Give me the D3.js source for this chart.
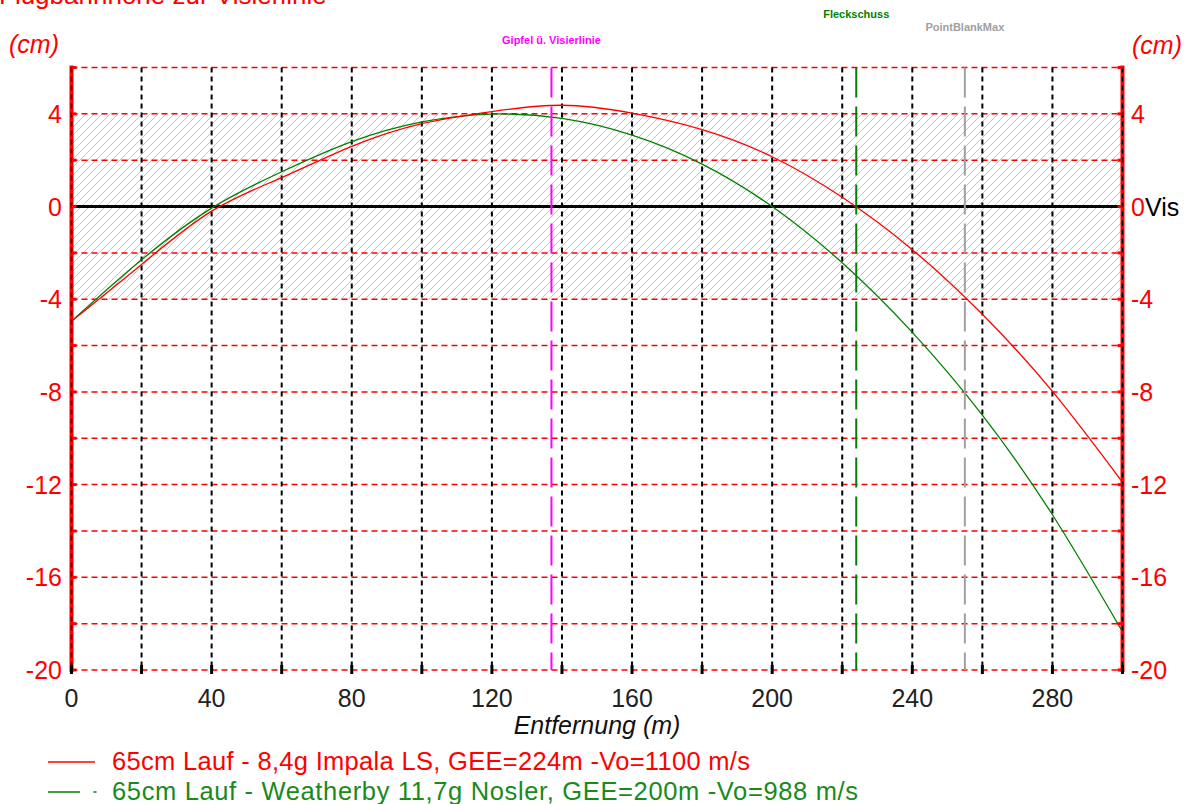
<!DOCTYPE html>
<html>
<head>
<meta charset="utf-8">
<script src="https://cdn.jsdelivr.net/npm/d3@7"></script>
<style>
  html, body { margin: 0; padding: 0; background: #ffffff; }
  svg { display: block; }
  text { font-family: "Liberation Sans", Arial, sans-serif; }
</style>
</head>
<body>
<svg id="chart" width="1190" height="804"></svg>
<script>
// ---- Data ----
const distances = [0, 20, 40, 60, 80, 100, 120, 140, 160, 180, 200, 220, 240, 260, 280, 300];
const impalaValues = [-4.95, -2.5, -0.2, 1.25, 2.6, 3.58, 4.1, 4.37, 4.03, 3.32, 2.15, 0.4, -1.86, -4.65, -7.98, -11.9];
const weatherbyValues = [-4.95, -2.3, -0.07, 1.5, 2.8, 3.65, 3.99, 3.8, 3.08, 1.83, 0.0, -2.43, -5.43, -9.0, -13.3, -18.35];
const seriesNames = [
  "65cm Lauf - 8,4g Impala LS, GEE=224m -Vo=1100 m/s",
  "65cm Lauf - Weatherby 11,7g Nosler, GEE=200m -Vo=988 m/s"
];
const xTicks = [0, 40, 80, 120, 160, 200, 240, 280];
const xGrid = [0, 20, 40, 60, 80, 100, 120, 140, 160, 180, 200, 220, 240, 260, 280, 300];
const yTicks = [4, 0, -4, -8, -12, -16, -20];
const yGrid = [6, 4, 2, -2, -4, -6, -8, -10, -12, -14, -16, -18, -20];
const markerNames = ["Gipfel ü. Visierlinie", "Fleckschuss", "PointBlankMax"];
const markerDistances = [137, 224, 255];
const hatchBand = [-4, 4];
const titleText = "Flugbahnhöhe zur Visierlinie";
const xTitle = "Entfernung (m)";
const yUnit = "(cm)";

// ---- Layout ----
const svg = d3.select("#chart");
const x = d3.scaleLinear().domain([0, 300]).range([71.5, 1122.5]);
const y = d3.scaleLinear().domain([-20, 6]).range([670, 67.5]);
const RED = "#ff0000", GREEN = "#008000", MAGENTA = "#ff00ff", GRAY = "#a0a0a0";
const markerColors = [MAGENTA, GREEN, GRAY];
const markerLabelY = [44, 18, 31];

// hatch pattern
const defs = svg.append("defs");
const pat = defs.append("pattern").attr("id", "hatch")
  .attr("patternUnits", "userSpaceOnUse").attr("width", 8).attr("height", 8);
pat.append("path").attr("d", "M-2,2 L2,-2 M0,8 L8,0 M6,10 L10,6")
  .attr("stroke", "#c4c4c4").attr("stroke-width", 1);

svg.append("rect")
  .attr("x", x(0)).attr("width", x(300) - x(0))
  .attr("y", y(hatchBand[1])).attr("height", y(hatchBand[0]) - y(hatchBand[1]))
  .attr("fill", "url(#hatch)");

// horizontal red dashed grid
svg.append("g").selectAll("line").data(yGrid).join("line")
  .attr("x1", x(0)).attr("x2", x(300))
  .attr("y1", d => y(d)).attr("y2", d => y(d))
  .attr("stroke", RED).attr("stroke-width", 1.5)
  .attr("stroke-dasharray", "6,4");

// vertical black dashed grid
svg.append("g").selectAll("line").data(xGrid.filter(d => d > 0 && d < 300)).join("line")
  .attr("x1", d => x(d)).attr("x2", d => x(d))
  .attr("y1", y(6)).attr("y2", y(-20))
  .attr("stroke", "#000").attr("stroke-width", 2)
  .attr("stroke-dasharray", "5,4");

// zero (sight) line
svg.append("line")
  .attr("x1", x(0)).attr("x2", x(300)).attr("y1", y(0)).attr("y2", y(0))
  .attr("stroke", "#000").attr("stroke-width", 3);

// curves
const line = d3.line().x((d, i) => x(distances[i])).y(d => y(d)).curve(d3.curveNatural);
svg.append("path").datum(weatherbyValues).attr("d", line)
  .attr("fill", "none").attr("stroke", GREEN).attr("stroke-width", 1.3);
svg.append("path").datum(impalaValues).attr("d", line)
  .attr("fill", "none").attr("stroke", RED).attr("stroke-width", 1.3);

// marker vertical lines
svg.append("g").selectAll("line").data(markerDistances).join("line")
  .attr("x1", d => x(d)).attr("x2", d => x(d))
  .attr("y1", y(6)).attr("y2", y(-20))
  .attr("stroke", (d, i) => markerColors[i]).attr("stroke-width", 2)
  .attr("stroke-dasharray", "30,9");

// marker labels
svg.append("g").selectAll("text").data(markerNames).join("text")
  .attr("x", (d, i) => x(markerDistances[i]))
  .attr("y", (d, i) => markerLabelY[i])
  .attr("text-anchor", "middle")
  .attr("font-size", 11).attr("font-weight", "bold")
  .attr("fill", (d, i) => markerColors[i])
  .text(d => d);

// left & right red axes
[0, 300].forEach(v => {
  svg.append("line").attr("x1", x(v)).attr("x2", x(v))
    .attr("y1", y(6) - 2).attr("y2", y(-20) + 2)
    .attr("stroke", RED).attr("stroke-width", 4);
  svg.append("line").attr("x1", x(v)).attr("x2", x(v))
    .attr("y1", y(6)).attr("y2", y(-20))
    .attr("stroke", "#000").attr("stroke-width", 1.5)
    .attr("stroke-dasharray", "5,4");
});
// small red ticks on axes
const minorY = d3.range(-20, 7, 2);
svg.append("g").selectAll("line").data(minorY).join("line")
  .attr("x1", x(0)).attr("x2", x(0) + 5).attr("y1", d => y(d)).attr("y2", d => y(d))
  .attr("stroke", RED).attr("stroke-width", 3);
svg.append("g").selectAll("line").data(minorY).join("line")
  .attr("x1", x(300) - 5).attr("x2", x(300)).attr("y1", d => y(d)).attr("y2", d => y(d))
  .attr("stroke", RED).attr("stroke-width", 3);
// bottom black ticks
svg.append("g").selectAll("line").data(xGrid).join("line")
  .attr("x1", d => x(d)).attr("x2", d => x(d))
  .attr("y1", y(-20) - 5).attr("y2", y(-20) + 4)
  .attr("stroke", "#000").attr("stroke-width", 3);

// left tick labels
svg.append("g").selectAll("text").data(yTicks).join("text")
  .attr("x", 62).attr("y", d => y(d)).attr("dy", "0.36em")
  .attr("text-anchor", "end").attr("font-size", 25).attr("fill", RED)
  .text(d => d);
// right tick labels
const rt = svg.append("g").selectAll("text").data(yTicks).join("text")
  .attr("x", 1131).attr("y", d => y(d)).attr("dy", "0.36em")
  .attr("font-size", 25).attr("fill", RED);
rt.append("tspan").text(d => d);
rt.filter(d => d === 0).append("tspan").attr("fill", "#000").text("Vis");

// x tick labels
svg.append("g").selectAll("text").data(xTicks).join("text")
  .attr("x", d => x(d)).attr("y", 707)
  .attr("text-anchor", "middle").attr("font-size", 25).attr("fill", "#222")
  .text(d => d);

// x title
svg.append("text").attr("x", x(150)).attr("y", 734)
  .attr("text-anchor", "middle").attr("font-size", 25).attr("font-style", "italic")
  .attr("fill", "#111").text(xTitle);

// unit labels
svg.append("text").attr("x", 9).attr("y", 53).attr("font-size", 25)
  .attr("font-style", "italic").attr("fill", RED).text(yUnit);
svg.append("text").attr("x", 1132).attr("y", 54).attr("font-size", 25)
  .attr("font-style", "italic").attr("fill", RED).text(yUnit);

// title (partly cut at top, as in the reference)
svg.append("text").attr("x", -1).attr("y", 4).attr("font-size", 26)
  .attr("fill", RED).text(titleText);

// legend
const legColors = [RED, "#1a8a1a"];
const legY = [762, 792];
const legLen = [638, 746];
svg.append("line").attr("x1", 48).attr("x2", 95).attr("y1", legY[0]).attr("y2", legY[0])
  .attr("stroke", RED).attr("stroke-width", 1.5);
svg.append("line").attr("x1", 48).attr("x2", 80).attr("y1", legY[1]).attr("y2", legY[1])
  .attr("stroke", GREEN).attr("stroke-width", 1.5);
svg.append("line").attr("x1", 93.5).attr("x2", 96.5).attr("y1", legY[1]).attr("y2", legY[1])
  .attr("stroke", GREEN).attr("stroke-width", 1.5);
svg.append("g").selectAll("text").data(seriesNames).join("text")
  .attr("x", 112).attr("y", (d, i) => legY[i] + 8)
  .attr("font-size", 25.5).attr("fill", (d, i) => legColors[i])
  .attr("textLength", (d, i) => legLen[i]).attr("lengthAdjust", "spacing")
  .text(d => d);
</script>
</body>
</html>
